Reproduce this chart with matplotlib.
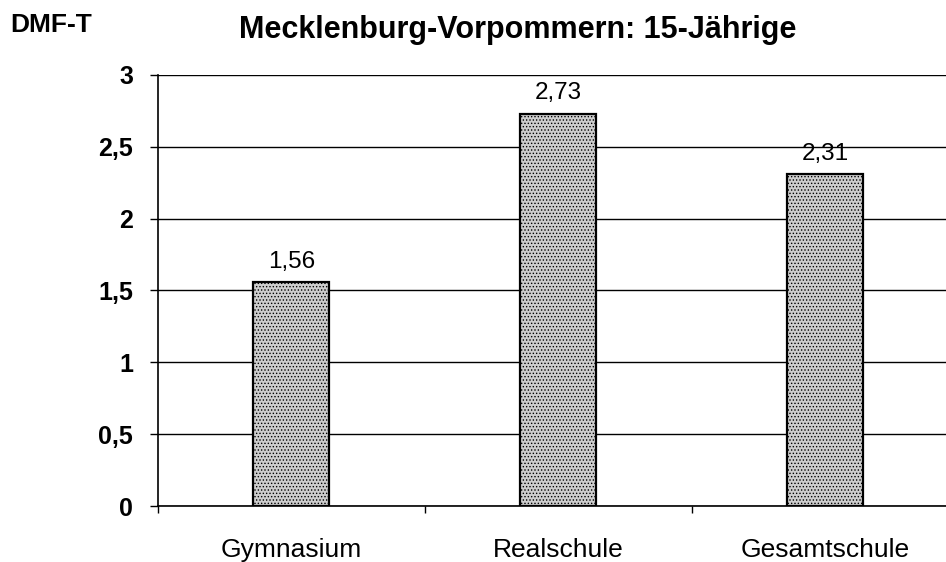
import matplotlib.pyplot as plt
import numpy as np

plt.rcParams['font.family'] = ['Liberation Sans', 'DejaVu Sans']
plt.rcParams['hatch.color'] = '#8a8a8a'
plt.rcParams['hatch.linewidth'] = 0.6

schools = ['Gymnasium', 'Realschule', 'Gesamtschule']
dmft = [1.56, 2.73, 2.31]
y_ticks = [0, 0.5, 1, 1.5, 2, 2.5, 3]
y_labels = ['0', '0,5', '1', '1,5', '2', '2,5', '3']

fig = plt.figure(figsize=(9.46, 5.62), dpi=100)
ax = fig.add_axes([0.167, 0.0996, 0.846, 0.767])

x = np.arange(len(schools))
bars = ax.bar(x, dmft, width=0.285, color='#cdcdcd', edgecolor='black',
              linewidth=1.6, hatch='.....', zorder=3)

for xi, v in zip(x, dmft):
    ax.text(xi, v + 0.065, f'{v:.2f}'.replace('.', ','), ha='center',
            va='bottom', fontsize=17.5, zorder=4)

ax.set_xlim(-0.5, 2.5)
ax.set_ylim(0, 3)
ax.set_yticks(y_ticks)
ax.set_yticklabels(y_labels, fontsize=18, fontweight='bold')
ax.yaxis.grid(True, color='black', linewidth=1.0, zorder=0)
ax.tick_params(axis='y', length=6, width=1, pad=12)

ax.set_xticks(x)
ax.set_xticklabels(schools, fontsize=19)
ax.tick_params(axis='x', which='major', length=0, pad=23)
ax.set_xticks([-0.5, 0.5, 1.5, 2.5], minor=True)
ax.tick_params(axis='x', which='minor', length=5, width=1)

for s in ['top', 'right']:
    ax.spines[s].set_visible(False)
ax.spines['left'].set_linewidth(1.2)
ax.spines['bottom'].set_linewidth(1.2)

fig.text(0.011, 0.955, 'DMF-T', fontsize=19, fontweight='bold', va='center')
fig.text(0.547, 0.947, 'Mecklenburg-Vorpommern: 15-Jährige', fontsize=22,
         fontweight='bold', ha='center', va='center')

fig.savefig('out.png', dpi=100)
